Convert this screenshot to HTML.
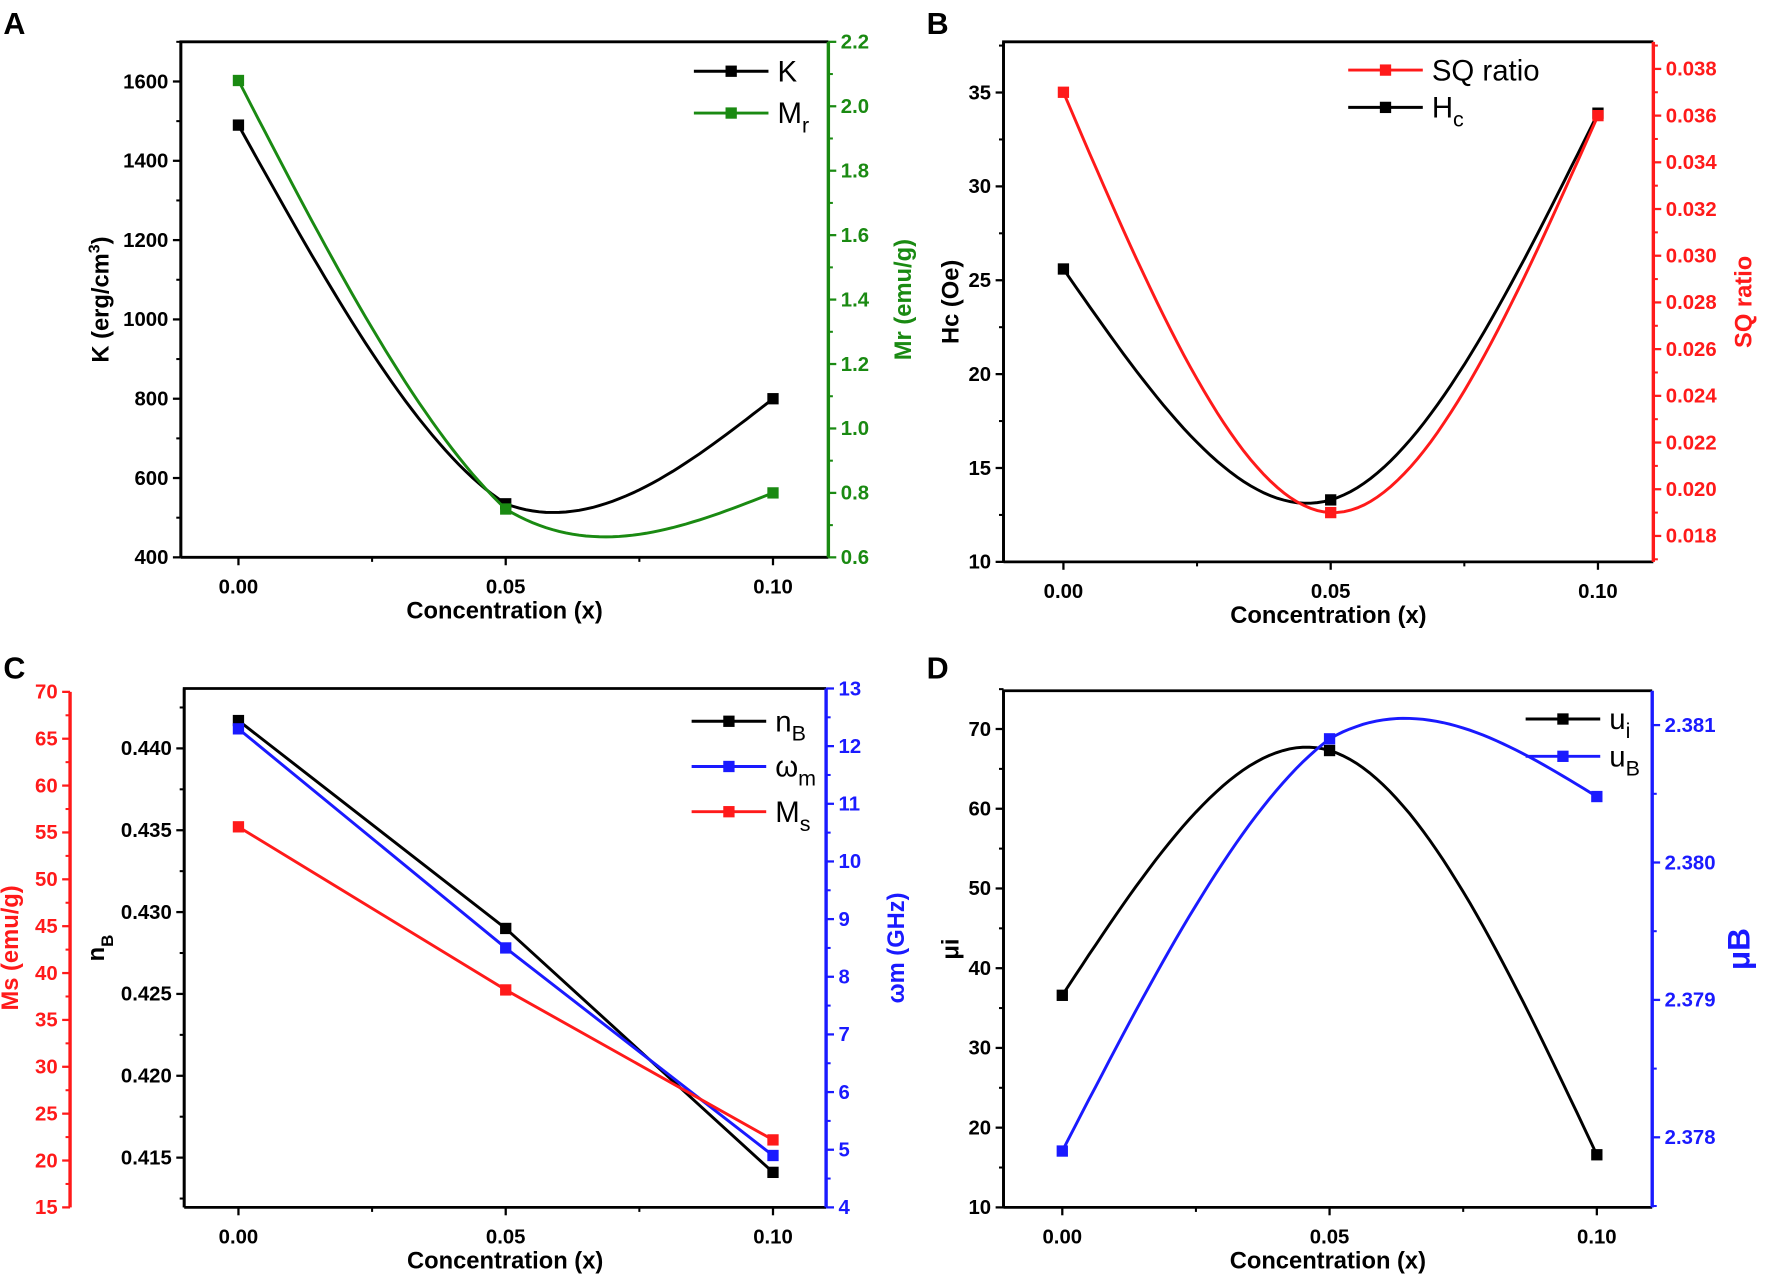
<!DOCTYPE html>
<html><head><meta charset="utf-8">
<style>
html,body{margin:0;padding:0;background:#fff;}
svg{display:block;font-family:"Liberation Sans",Arial,sans-serif;}
</style></head>
<body>
<svg id="fig" width="1772" height="1282" viewBox="0 0 1568 1134" preserveAspectRatio="none" xmlns="http://www.w3.org/2000/svg">
<rect width="1568" height="1134" fill="#fff"/>
</svg>
<script>
// ---- data ----
const xCats = [0, 0.05, 0.10];
const xTickLabels = ["0.00", "0.05", "0.10"];
// Panel A
const kValues = [1490, 535, 800];
const mrValues = [2.08, 0.75, 0.80];
// Panel B
const hcValues = [25.6, 13.3, 33.9];
const sqValues = [0.0370, 0.0190, 0.0360];
// Panel C
const nbValues = [0.4417, 0.4290, 0.4141];
const omegaValues = [12.3, 8.5, 4.9];
const msValues = [55.6, 38.2, 22.2];
// Panel D
const muiValues = [36.6, 67.3, 16.6];
const mubValues = [2.3779, 2.3809, 2.38048];

const NS = "http://www.w3.org/2000/svg";
const svg = document.getElementById('fig');
function el(tag, attrs, parent, text) {
  const e = document.createElementNS(NS, tag);
  for (const k in attrs) e.setAttribute(k, attrs[k]);
  if (text !== undefined) e.textContent = text;
  (parent || svg).appendChild(e);
  return e;
}
function lin(d0, d1, r0, r1) { return v => r0 + (v - d0) * (r1 - r0) / (d1 - d0); }
function spline(xs, ys, damp) {
  const n = xs.length, M = new Array(n).fill(0);
  if (n === 3) {
    const h0 = xs[1]-xs[0], h1 = xs[2]-xs[1];
    const rhs = 6*((ys[2]-ys[1])/h1 - (ys[1]-ys[0])/h0);
    M[1] = damp * rhs / (2*(h0+h1));
  }
  const pts = [];
  for (let i = 0; i < n-1; i++) {
    const h = xs[i+1]-xs[i];
    for (let s = 0; s <= 40; s++) {
      const t = xs[i] + h*s/40;
      const a = xs[i+1]-t, b = t-xs[i];
      const y = M[i]*a*a*a/(6*h) + M[i+1]*b*b*b/(6*h) + (ys[i]/h - M[i]*h/6)*a + (ys[i+1]/h - M[i+1]*h/6)*b;
      pts.push([t, y]);
    }
  }
  return pts;
}
function fmt(v, d) { return v.toFixed(d); }

function yAxis(g, x, y0, y1, sy, major, minor, dec, color, side, lw) {
  const line = el('line', {x1:x, x2:x, y1:y0, y2:y1, stroke:color, 'stroke-width':lw||2.5}, g);
  
  
  const dir = side === 'left' ? -1 : 1;
  minor.forEach(v => {
    const t = el('line', {x1:x, x2:x+dir*4, y1:sy(v), y2:sy(v), stroke:color, 'stroke-width':1.8}, g);
    
    
  });
  major.forEach(v => {
    const t = el('line', {x1:x, x2:x+dir*7, y1:sy(v), y2:sy(v), stroke:color, 'stroke-width':2}, g);
    
    
    const lb = el('text', {x:x+dir*11, y:sy(v)+6, 'text-anchor': side==='left'?'end':'start', 'font-size':18, 'font-weight':'bold', fill:color}, g, fmt(v, dec));
    
    
  });
}
function range(a, b, s) { const r=[]; for (let v=a; v<=b+s*1e-6; v+=s) r.push(+v.toFixed(6)); return r; }

function panel(cfg) {
  const g = el('g', {});
  
  
  const [L, R, T, B] = cfg.box;
  const sx = lin(0, 0.10, cfg.x0, cfg.x1);
  const fr = el('path', {d:`M${L},${B} L${L},${T} L${R},${T}`, fill:'none', stroke:'#000', 'stroke-width':2.5}, g);
  
  
  const bx = el('line', {x1:L, x2:R, y1:B, y2:B, stroke:'#000', 'stroke-width':2.5}, g);
  
  
  xCats.forEach((v, i) => {
    const t = el('line', {x1:sx(v), x2:sx(v), y1:B, y2:B+7, stroke:'#000', 'stroke-width':2}, g);
    
    
    const lb = el('text', {x:sx(v), y:B+32, 'text-anchor':'middle', 'font-size':18, 'font-weight':'bold'}, g, xTickLabels[i]);
    
    
  });
  [0.025, 0.075].forEach(v => {
    const t = el('line', {x1:sx(v), x2:sx(v), y1:B, y2:B+4, stroke:'#000', 'stroke-width':1.8}, g);
    
    
  });
  const xt = el('text', {x:(L+R)/2, y:B+54, 'text-anchor':'middle', 'font-size':21, 'font-weight':'bold'}, g, 'Concentration (x)');
  
  
  const lt = el('text', {x:cfg.letter[0], y:cfg.letter[1], 'font-size':27, 'font-weight':'bold'}, g, cfg.letterText);
  
  
  cfg.axes.forEach(a => {
    const sy = lin(a.d0, a.d1, B, T);
    a.sy = sy;
    yAxis(g, a.x, a.top!==undefined?a.top:T, B, sy, a.major, a.minor, a.dec, a.color, a.side, a.lw);
    const tt = el('text', {x:a.tx, y:(T+B)/2, transform:`rotate(-90 ${a.tx} ${(T+B)/2})`, 'text-anchor':'middle', 'font-size':a.tsize||21, 'font-weight':'bold', fill:a.color}, g);
    
    
    tt.innerHTML = a.title;
  });
  cfg.series.forEach(s => {
    const sy = cfg.axes[s.axis].sy;
    let pts;
    if (s.smooth) pts = spline(xCats, s.values, s.damp || 1); else pts = xCats.map((x, i) => [x, s.values[i]]);
    const d = pts.map((p, i) => (i ? 'L' : 'M') + sx(p[0]).toFixed(1) + ',' + sy(p[1]).toFixed(1)).join(' ');
    const p = el('path', {d, fill:'none', stroke:s.color, 'stroke-width':2.6}, g);
    
    
    s.values.forEach((v, i) => {
      const m = el('rect', {x:sx(xCats[i])-5, y:sy(v)-5, width:10, height:10, fill:s.color}, g);
      
      
    });
    const [lx, ly] = s.leg;
    const ll = el('line', {x1:lx, x2:lx+66, y1:ly, y2:ly, stroke:s.color, 'stroke-width':2.6}, g);
    
    
    const lm = el('rect', {x:lx+28, y:ly-5, width:10, height:10, fill:s.color}, g);
    
    
    const lx2 = el('text', {x:lx+74, y:ly+9, 'font-size':26}, g);
    
    
    lx2.innerHTML = s.label;
  });
}

panel({name:'panel-a', letterText:'A', letter:[3,30], box:[160,733,37,493], x0:211, x1:684,
  axes:[
    {d0:400, d1:1700, x:160, side:'left', color:'#000', major:range(400,1600,200), minor:range(500,1700,200), dec:0, tx:96, title:'K (erg/cm<tspan dy="-8" font-size="14">3</tspan><tspan dy="8">)</tspan>'},
    {d0:0.6, d1:2.2, x:733, side:'right', color:'#1a8a12', major:range(0.6,2.2,0.2), minor:range(0.7,2.1,0.2), dec:1, tx:806, title:'Mr (emu/g)', lw:3}
  ],
  series:[
    {name:'k', axis:0, values:kValues, color:'#000', smooth:true, damp:0.85, leg:[614,63], label:'K'},
    {name:'mr', axis:1, values:mrValues, color:'#1a8a12', smooth:true, damp:0.8, leg:[614,100], label:'M<tspan dy="8" font-size="19">r</tspan>'}
  ]});

panel({name:'panel-b', letterText:'B', letter:[820,30], box:[888,1463,37,497], x0:941, x1:1414,
  axes:[
    {d0:10, d1:37.7, x:888, side:'left', color:'#000', major:range(10,35,5), minor:range(12.5,37.5,5), dec:0, tx:848, title:'Hc (Oe)'},
    {d0:0.01689, d1:0.03916, x:1463, side:'right', color:'#ff1a1a', major:range(0.018,0.038,0.002), minor:range(0.017,0.039,0.002), dec:3, tx:1550, title:'SQ ratio', lw:3}
  ],
  series:[
    {name:'hc', axis:0, values:hcValues, color:'#000', smooth:true, leg:[1193,95], label:'H<tspan dy="8" font-size="19">c</tspan>'},
    {name:'sq', axis:1, values:sqValues, color:'#ff1a1a', smooth:true, leg:[1193,62], label:'SQ ratio'}
  ]});

panel({name:'panel-c', letterText:'C', letter:[3,600], box:[163,731,609,1068], x0:211, x1:684,
  axes:[
    {d0:0.41196, d1:0.44366, x:163, side:'left', color:'#000', major:range(0.415,0.440,0.005), minor:range(0.4125,0.4425,0.005), dec:3, tx:92, title:'n<tspan dy="8" font-size="15">B</tspan>'},
    {d0:4, d1:13, x:731, side:'right', color:'#1a1aff', major:range(4,13,1), minor:range(4.5,12.5,1), dec:0, tx:800, title:'ωm (GHz)', lw:3},
    {d0:15, d1:70.36, x:62, top:612, side:'left', color:'#ff1a1a', major:range(15,70,5), minor:range(17.5,67.5,5), dec:0, tx:16, title:'Ms (emu/g)', lw:3}
  ],
  series:[
    {name:'nb', axis:0, values:nbValues, color:'#000', smooth:false, leg:[612,638], label:'n<tspan dy="8" font-size="19">B</tspan>'},
    {name:'omega-m', axis:1, values:omegaValues, color:'#1a1aff', smooth:false, leg:[612,678], label:'ω<tspan dy="8" font-size="19">m</tspan>'},
    {name:'ms', axis:2, values:msValues, color:'#ff1a1a', smooth:false, leg:[612,718], label:'M<tspan dy="8" font-size="19">s</tspan>'}
  ]});

panel({name:'panel-d', letterText:'D', letter:[820,600], box:[888,1462,611,1068], x0:940, x1:1413,
  axes:[
    {d0:10, d1:74.8, x:888, side:'left', color:'#000', major:range(10,70,10), minor:range(15,75,10), dec:0, tx:848, title:'μi'},
    {d0:2.37749, d1:2.38125, x:1462, side:'right', color:'#1a1aff', major:range(2.378,2.381,0.001), minor:range(2.3775,2.3810,0.001), dec:3, tx:1548, title:'μB', lw:3, tsize:28}
  ],
  series:[
    {name:'mu-i', axis:0, values:muiValues, color:'#000', smooth:true, leg:[1350,636], label:'u<tspan dy="8" font-size="19">i</tspan>'},
    {name:'mu-b', axis:1, values:mubValues, color:'#1a1aff', smooth:true, damp:0.9, leg:[1350,669], label:'u<tspan dy="8" font-size="19">B</tspan>'}
  ]});
</script>
</body></html>
